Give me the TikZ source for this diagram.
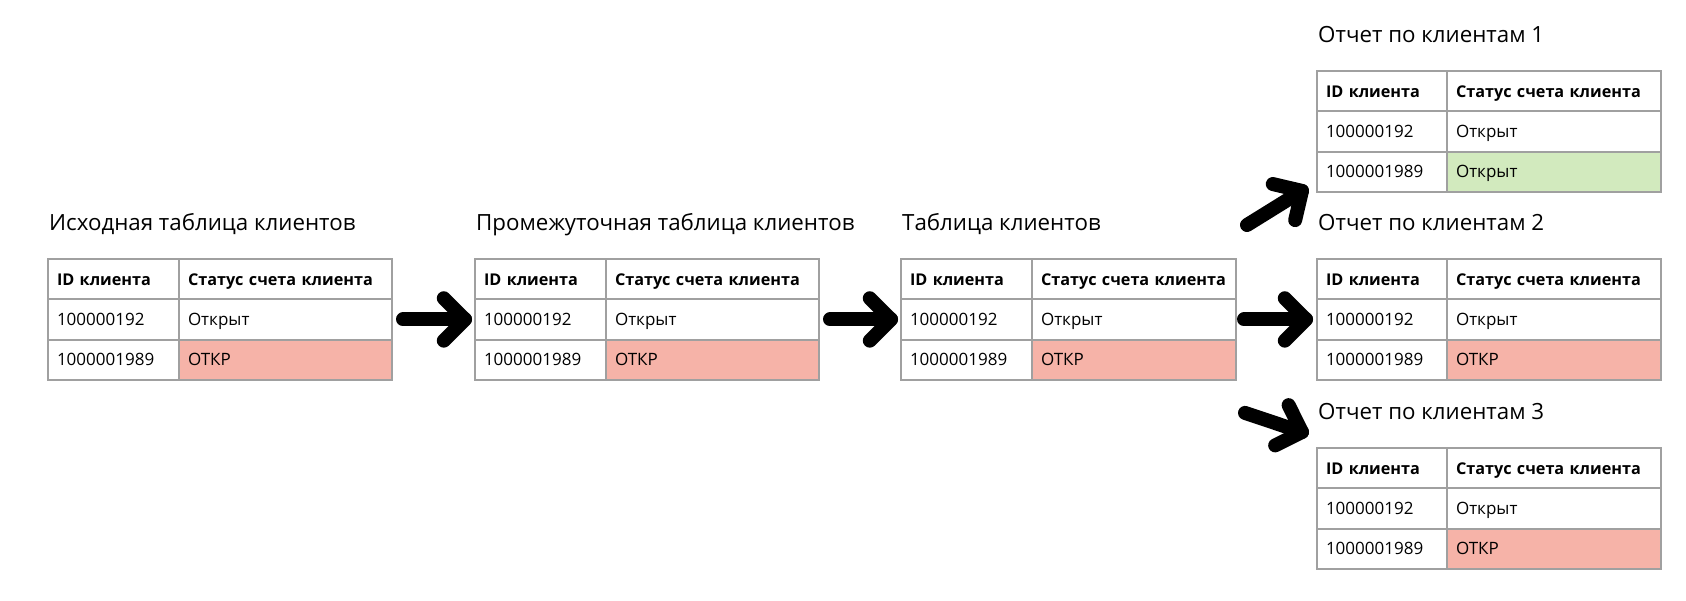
\documentclass[tikz,border=0pt]{standalone}
\usepackage{fontspec}
\setmainfont{Open Sans}
\usetikzlibrary{calc}
\definecolor{bordergray}{HTML}{A0A0A0}
\definecolor{redcell}{HTML}{F6B3A8}
\definecolor{greencell}{HTML}{D2EABE}
\tikzset{
  cell/.style={draw=bordergray, line width=2pt, inner xsep=9pt, inner ysep=0pt,
    minimum height=40.3pt, text height=12pt, text depth=0pt, align=left,
    outer sep=0pt, anchor=north west, font=\fontsize{17}{20}\selectfont},
  headcell/.style={cell, font=\fontsize{16.2}{20}\selectfont\bfseries},
  ttl/.style={inner sep=0pt, anchor=base west, font=\fontsize{22.3}{26}\selectfont},
  bigarrow/.style={draw=black, line width=14pt, line cap=round, line join=round}
}
% name, x, y, text width col1, text width col2, fill colour, status, title
\newcommand\ctable[8]{%
  \node[ttl] (#1-t) at (#2+1,#3-29) {#8};
  \node[headcell, text width=#4pt] (#1-h1) at (#2,#3) {\mbox{ID клиента}};
  \node[headcell, text width=#5pt] (#1-h2) at (#1-h1.north east) {\mbox{Статус счета клиента}};
  \node[cell, text width=#4pt] (#1-a1) at (#1-h1.south west) {100000192};
  \node[cell, text width=#5pt] (#1-a2) at (#1-a1.north east) {Открыт};
  \node[cell, text width=#4pt] (#1-b1) at (#1-a1.south west) {1000001989};
  \node[cell, text width=#5pt, fill=#6] (#1-b2) at (#1-b1.north east) {#7};
}
\newcommand\headarrow[2]{%
  \draw[bigarrow] (#1) -- (#2);
  \draw[bigarrow] ($(#2)!30pt!45:(#1)$) -- (#2) -- ($(#2)!30pt!-45:(#1)$);
}
\begin{document}
\begin{tikzpicture}[x=1pt,y=-1pt]
  \fill[white] (0,0) rectangle (1686,600);
  \useasboundingbox (0,0) rectangle (1686,600);
  \ctable{A}{48}{259}{113}{195}{redcell}{ОТКР}{Исходная таблица клиентов}
  \ctable{B}{475}{259}{113}{195}{redcell}{ОТКР}{Промежуточная таблица клиентов}
  \ctable{C}{901}{259}{113}{186}{redcell}{ОТКР}{Таблица клиентов}
  \ctable{D}{1317}{71}{112}{196}{greencell}{Открыт}{Отчет по клиентам 1}
  \ctable{E}{1317}{259}{112}{196}{redcell}{ОТКР}{Отчет по клиентам 2}
  \ctable{F}{1317}{448}{112}{196}{redcell}{ОТКР}{Отчет по клиентам 3}
  % arrow end points
  \coordinate (ab0) at ($(A-a2.east)+(11,0)$);
  \coordinate (ab1) at ($(B-a1.west)+(-10,0)$);
  \coordinate (bc0) at ($(B-a2.east)+(11,0)$);
  \coordinate (bc1) at ($(C-a1.west)+(-10,0)$);
  \coordinate (ce0) at ($(C-a2.east)+(8,0)$);
  \coordinate (ce1) at ($(E-a1.west)+(-11,0)$);
  \coordinate (cd0) at ($(C-h2.north east)+(11,-34)$);
  \coordinate (cd1) at ($(D-b1.south west)+(-15,-1)$);
  \coordinate (cf0) at ($(C-b2.south east)+(9,33)$);
  \coordinate (cf1) at ($(F-h1.north west)+(-15,-16)$);
  \headarrow{ab0}{ab1}
  \headarrow{bc0}{bc1}
  \headarrow{ce0}{ce1}
  \headarrow{cd0}{cd1}
  \headarrow{cf0}{cf1}
\end{tikzpicture}
\end{document}
